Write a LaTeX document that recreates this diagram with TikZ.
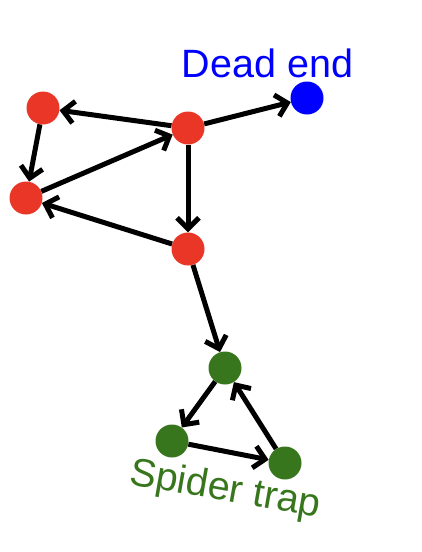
\documentclass[tikz,border=0pt]{standalone}
\usepackage{fontspec}
\setmainfont{Liberation Sans}
\usetikzlibrary{arrows.meta}
\definecolor{nodered}{RGB}{234,54,38}
\definecolor{nodeblue}{RGB}{0,0,255}
\definecolor{nodegreen}{RGB}{56,118,29}
\begin{document}
\begin{tikzpicture}[x=1pt,y=-1pt,
  vertex/.style={circle,minimum size=33pt,inner sep=0pt,draw=none,fill=#1},
  link/.style={line width=5pt,-{Straight Barb[length=11pt,width=22pt,line width=5pt]}},
  caption/.style={font=\fontsize{39.5}{41}\selectfont,inner sep=0pt}]
  \useasboundingbox (0,0) rectangle (422,552);
  % red cluster
  \node[vertex=nodered] (a) at (43,108) {};
  \node[vertex=nodered] (b) at (188,128) {};
  \node[vertex=nodered] (c) at (26,198) {};
  \node[vertex=nodered] (d) at (188,249) {};
  % dead end
  \node[vertex=nodeblue] (e) at (307,98) {};
  % spider trap
  \node[vertex=nodegreen] (f) at (225,368) {};
  \node[vertex=nodegreen] (g) at (172,441) {};
  \node[vertex=nodegreen] (h) at (285,463) {};
  % links
  \draw[link] (b) -- (a);
  \draw[link] (a) -- (c);
  \draw[link] (c) -- (b);
  \draw[link] (b) -- (d);
  \draw[link] (d) -- (c);
  \draw[link] (b) -- (e);
  \draw[link] (d) -- (f);
  \draw[link] (f) -- (g);
  \draw[link] (g) -- (h);
  \draw[link] (h) -- (f);
  % labels
  \node[caption,text=nodeblue,anchor=base] (deadlbl) at (267.5,77) {Dead end};
  \node[caption,text=nodegreen,anchor=base west,rotate=-10] (traplbl) at (128,484) {Spider trap};
\end{tikzpicture}
\end{document}
